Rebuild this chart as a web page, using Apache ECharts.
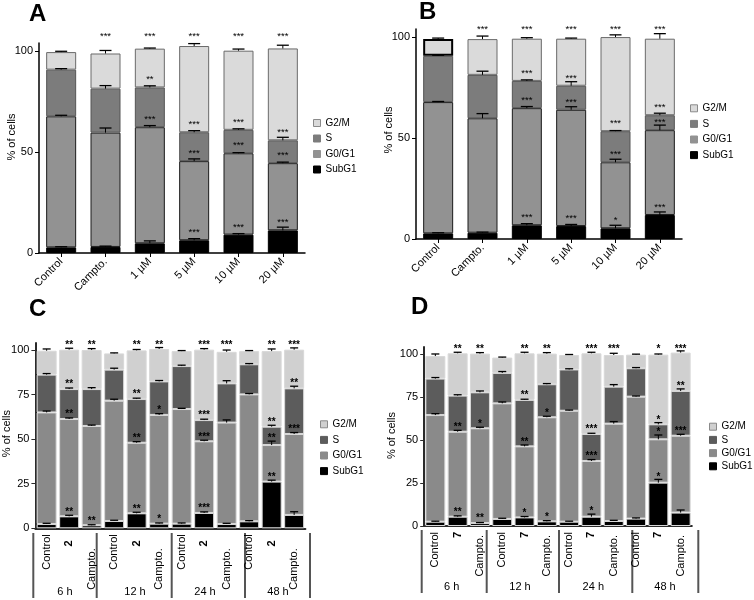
<!DOCTYPE html>
<html><head><meta charset="utf-8">
<script src="https://cdn.jsdelivr.net/npm/echarts@6/dist/echarts.min.js"></script>
<style>html,body{margin:0;padding:0;background:#fff}#c{width:754px;height:600px}</style>
</head><body><div id="c"></div>
<script>
const FONT = 'Liberation Sans, Arial, sans-serif';
const segNames = ['SubG1', 'G0/G1', 'S', 'G2/M'];
const legendOrder = ['G2/M', 'S', 'G0/G1', 'SubG1'];
const catsAB = ['Control', 'Campto.', '1 µM', '5 µM', '10 µM', '20 µM'];
const catsC = ['Control', '2', 'Campto.', 'Control', '2', 'Campto.', 'Control', '2', 'Campto.', 'Control', '2', 'Campto.'];
const catsD = ['Control', '7', 'Campto.', 'Control', '7', 'Campto.', 'Control', '7', 'Campto.', 'Control', '7', 'Campto.'];
const groupLabels = ['6 h', '12 h', '24 h', '48 h'];
const yTicksAB = [0, 50, 100];
const yTicksCD = [0, 25, 50, 75, 100];

// Panel A
const aSubG1 = [2.8, 3.0, 4.8, 6.3, 9.1, 11.2];
const aG0G1 = [64.9, 56.6, 57.5, 39.2, 40.3, 33.3];
const aS = [23.1, 21.8, 19.7, 14.3, 11.6, 11.3];
const aG2M = [8.7, 17.4, 19.2, 42.7, 39.2, 45.5];
const aErr = [[0.3, 0.4, 1.2, 0.8, 0.5, 1.6], [0.5, 2.3, 0.8, 1.1, 0.3, 0.5], [0.5, 1.5, 0.8, 0.8, 0.5, 1.5], [0.4, 1.5, 0.3, 1.2, 0.8, 1.6]];
const aStars = [['', '', '', '***', '***', '***'], ['', '', '***', '***', '***', '***'], ['', '', '**', '***', '***', '***'], ['', '***', '***', '***', '***', '***']];

// Panel B
const bSubG1 = [2.8, 3.1, 6.8, 6.4, 5.3, 11.9];
const bG0G1 = [65.0, 56.7, 58.0, 57.6, 32.7, 42.0];
const bS = [22.9, 21.5, 13.5, 11.9, 15.4, 7.4];
const bG2M = [8.3, 17.7, 20.9, 23.3, 46.6, 37.9];
const bErr = [[0.3, 0.3, 0.8, 0.8, 1.5, 1.5], [0.3, 2.3, 0.8, 1.5, 1.5, 2.5], [0.3, 1.8, 0.5, 2.0, 0.3, 1.0], [0.5, 1.5, 0.5, 0.3, 1.1, 2.5]];
const bStars = [['', '', '***', '***', '*', '***'], ['', '', '***', '***', '***', '***'], ['', '', '***', '***', '***', '***'], ['', '***', '***', '***', '***', '***']];

// Panel C
const cSubG1 = [2.4, 6.7, 1.7, 4.1, 8.4, 2.6, 2.6, 8.6, 2.4, 3.9, 26.2, 7.5];
const cG0G1 = [62.6, 54.6, 55.7, 67.5, 39.6, 61.0, 64.3, 40.2, 56.9, 71.2, 20.5, 45.4];
const cS = [21.2, 16.8, 20.7, 17.4, 24.5, 18.8, 24.1, 11.9, 22.0, 16.9, 10.3, 25.6];
const cG2M = [13.4, 22.1, 21.9, 9.1, 27.3, 18.2, 8.4, 39.5, 17.7, 7.4, 42.4, 21.7];
const cErr = [[0.4, 0.6, 0.3, 0.4, 0.6, 0.4, 0.4, 0.6, 0.4, 0.4, 0.8, 1.8], [0.8, 0.6, 0.5, 0.8, 0.6, 0.7, 0.4, 0.6, 1.5, 0.5, 2.2, 0.8], [0.6, 0.6, 0.8, 0.8, 0.5, 0.5, 0.5, 0.5, 1.5, 0.4, 0.8, 1.2], [1.0, 0.8, 0.8, 0.3, 0.5, 0.8, 0.3, 0.6, 1.0, 0.3, 1.2, 1.0]];
const cStars = [['', '**', '**', '', '**', '*', '', '***', '', '', '**', ''], ['', '**', '', '', '**', '*', '', '***', '', '', '**', '***'], ['', '**', '', '', '**', '', '', '***', '', '', '**', '**'], ['', '**', '**', '', '**', '**', '', '***', '***', '', '**', '***']];

// Panel D
const dSubG1 = [2.5, 5.4, 1.7, 4.1, 5.0, 2.7, 2.5, 5.4, 2.9, 4.3, 25.2, 7.8];
const dG0G1 = [62.0, 49.4, 55.1, 67.2, 41.3, 60.5, 64.5, 32.4, 56.6, 70.9, 25.2, 44.7];
const dS = [21.2, 21.0, 20.9, 17.7, 27.0, 19.2, 24.0, 15.7, 21.5, 16.5, 8.7, 26.0];
const dG2M = [13.1, 24.6, 22.5, 8.9, 27.1, 17.8, 8.4, 46.9, 18.4, 7.9, 40.5, 22.3];
const dErr = [[0.3, 0.5, 0.3, 0.4, 0.5, 0.4, 0.3, 1.5, 0.4, 0.4, 1.9, 1.5], [0.8, 0.8, 0.6, 0.8, 0.8, 0.6, 0.4, 0.8, 1.2, 0.4, 2.5, 0.8], [0.6, 0.5, 0.8, 0.8, 0.4, 0.4, 0.4, 0.4, 1.2, 0.4, 1.0, 1.2], [1.2, 0.6, 0.6, 0.3, 0.6, 0.6, 0.3, 0.6, 1.0, 0.3, 0.4, 1.0]];
const dStars = [['', '**', '**', '', '*', '*', '', '*', '', '', '*', ''], ['', '**', '*', '', '**', '*', '', '***', '', '', '*', '***'], ['', '', '', '', '**', '', '', '***', '', '', '*', '**'], ['', '**', '**', '', '**', '**', '', '***', '***', '', '*', '***']];

const colorsAB = ['#000000', '#929292', '#7c7c7c', '#dadada'];
const bordersAB = ['#000000', '#1a1a1a', '#555555', '#6a6a6a'];
const colorsCD = ['#000000', '#8a8a8a', '#5c5c5c', '#d0d0d0'];
const bordersCD = ['#d8d8d8', '#d8d8d8', '#d8d8d8', '#d8d8d8'];

const panels = [
  { letter: 'A', letterPos: [29, 2], cats: catsAB, segs: [aSubG1, aG0G1, aS, aG2M], err: aErr, stars: aStars, topLevel: 108.7,
    grid: { left: 39, top: 43, width: 266, height: 210 }, ticks: yTicksAB, interval: 50, barWidth: 30, cap: 12,
    colors: colorsAB, borders: bordersAB, starSize: 9.5, starWeight: 'normal', starOff: 10, nameGap: 22, namePad: [0, 0, 0, 22],
    legend: { left: 313, top: 117, gap: 3.5 }, rotate: 45 },
  { letter: 'B', letterPos: [419, 0], cats: catsAB, segs: [bSubG1, bG0G1, bS, bG2M], err: bErr, stars: bStars, topLevel: 105.2,
    grid: { left: 416, top: 29, width: 266, height: 210 }, ticks: yTicksAB, interval: 50, barWidth: 30, cap: 12,
    colors: colorsAB, borders: bordersAB, starSize: 9.5, starWeight: 'normal', starOff: 10, nameGap: 22, namePad: [0, 0, 0, 8],
    legend: { left: 690, top: 102.3, gap: 3.6 }, rotate: 45 },
  { letter: 'C', letterPos: [29, 297], cats: catsC, segs: [cSubG1, cG0G1, cS, cG2M], err: cErr, stars: cStars, topLevel: 104.3,
    grid: { left: 35.4, top: 342.9, width: 270, height: 185.4 }, ticks: yTicksCD, interval: 25, barWidth: 20, cap: 8,
    colors: colorsCD, borders: bordersCD, starSize: 10, starWeight: 'bold', starOff: 7, nameGap: 23, namePad: [0, 0, 0, 4],
    legend: { left: 320, top: 418.3, gap: 3.6 }, rotate: 90, labelPad: { n: 6, c: 14 },
    seps: [33.3, 96.7, 171.7, 245, 310], sepY: [533, 598], groupX: [65, 135, 205, 278], groupY: 591.7 },
  { letter: 'D', letterPos: [411, 295], cats: catsD, segs: [dSubG1, dG0G1, dS, dG2M], err: dErr, stars: dStars, topLevel: 104.4,
    grid: { left: 424.2, top: 347.1, width: 267.6, height: 178.9 }, ticks: yTicksCD, interval: 25, barWidth: 20, cap: 8,
    colors: colorsCD, borders: bordersCD, starSize: 10, starWeight: 'bold', starOff: 7, nameGap: 27, namePad: [0, 0, 0, 2],
    legend: { left: 709, top: 420.7, gap: 1.2 }, rotate: 90, labelPad: { n: 0, c: 3 },
    seps: [421.7, 486.7, 559, 632.3, 698.3], sepY: [530, 593], groupX: [451.7, 520, 593.3, 665], groupY: 586.7 }
];

function starText(txt, x, y, P) {
  return { type: 'text', style: { text: txt, x: x, y: y + P.starSize * 0.25, fill: '#000', fontSize: P.starSize,
    fontWeight: P.starWeight, fontFamily: FONT, align: 'center', verticalAlign: 'middle' } };
}

const grids = [], xAxes = [], yAxes = [], series = [], legends = [], graphics = [];
panels.forEach((P, pi) => {
  grids.push(Object.assign({ outerBoundsMode: 'none', containLabel: false }, P.grid));
  const xLabel = { interval: 0, rotate: P.rotate, fontSize: 11, color: '#000', fontFamily: FONT, margin: P.rotate === 90 ? 6 : 7 };
  if (P.labelPad) {
    xLabel.formatter = v => v === 'Control' ? v : (v === 'Campto.' ? '{c|Campto.}' : '{n|' + v + '}');
    xLabel.rich = {
      c: { fontSize: 11, color: '#000', fontFamily: FONT, padding: [0, P.labelPad.c, 0, 0] },
      n: { fontSize: 11, color: '#000', fontFamily: FONT, fontWeight: 'bold', padding: [0, P.labelPad.n, 0, 0] }
    };
  }
  const axisCol = P.rotate === 90 ? '#2a2a2a' : '#000';
  xAxes.push({ type: 'category', gridIndex: pi, data: P.cats, axisLine: { lineStyle: { color: axisCol, width: P.rotate === 90 ? 2 : 1.5 } },
    axisTick: { show: P.rotate !== 90, alignWithLabel: true, length: 4, lineStyle: { color: '#000' } }, axisLabel: xLabel });
  yAxes.push({ type: 'value', gridIndex: pi, min: 0, max: 104, interval: P.interval,
    name: '% of cells', nameLocation: 'middle', nameGap: P.nameGap, nameMoveOverlap: false,
    nameTextStyle: { fontSize: 11, color: '#000', fontFamily: FONT, padding: P.namePad },
    axisLine: { show: true, lineStyle: { color: axisCol, width: P.rotate === 90 ? 2 : 1.5 } },
    axisTick: { show: true, length: 4, customValues: P.ticks, lineStyle: { color: axisCol } },
    axisLabel: { customValues: P.ticks, fontSize: 11, color: '#000', fontFamily: FONT, margin: 6 },
    splitLine: { show: false } });
  segNames.forEach((name, s) => {
    const data = P.segs[s].map(v => v);
    if (P.letter === 'B' && s === 3) {
      data[0] = { value: P.segs[s][0], itemStyle: { borderColor: '#000', borderWidth: 2 } };
    }
    series.push({ type: 'bar', name: name, xAxisIndex: pi, yAxisIndex: pi, stack: 'p' + pi, barWidth: P.barWidth,
      data: data, itemStyle: { color: P.colors[s], borderColor: P.borders[s], borderWidth: 1 },
      emphasis: { disabled: true }, animation: false });
  });
  series.push({ type: 'custom', xAxisIndex: pi, yAxisIndex: pi, z: 5, clip: false, silent: true, animation: false,
    data: P.cats.map((c, i) => [i, 0]),
    renderItem(params, api) {
      const i = params.dataIndex;
      const kids = [];
      let cum = 0;
      for (let s = 0; s < 4; s++) {
        cum += P.segs[s][i];
        const e = P.err[s][i];
        const a = api.coord([i, cum]), b = api.coord([i, cum + e]);
        kids.push({ type: 'line', shape: { x1: a[0], y1: a[1], x2: b[0], y2: b[1] }, style: { stroke: '#000', lineWidth: 1 } });
        kids.push({ type: 'line', shape: { x1: b[0] - P.cap / 2, y1: b[1], x2: b[0] + P.cap / 2, y2: b[1] }, style: { stroke: '#000', lineWidth: 1.3 } });
        if (s < 3 && P.stars[s][i]) {
          kids.push(starText(P.stars[s][i], a[0], Math.min(a[1] - P.starOff, b[1] - 5), P));
        }
      }
      if (P.stars[3][i]) {
        const t = api.coord([i, P.topLevel]);
        kids.push(starText(P.stars[3][i], t[0], t[1], P));
      }
      return { type: 'group', children: kids };
    } });
  legends.push({ orient: 'vertical', left: P.legend.left, top: P.legend.top, padding: 0, itemGap: P.legend.gap,
    itemWidth: 7, itemHeight: 7, icon: 'rect', selectedMode: false,
    textStyle: { fontSize: 10, color: '#000', fontFamily: FONT, lineHeight: 12 },
    data: legendOrder.map(n => {
      const s = segNames.indexOf(n);
      return { name: n, itemStyle: { color: P.colors[s], borderColor: s === 3 ? '#8a8a8a' : P.colors[s], borderWidth: 1 } };
    }) });
  graphics.push({ type: 'text', left: P.letterPos[0], top: P.letterPos[1],
    style: { text: P.letter, fontSize: 24, fontWeight: 'bold', fill: '#000', fontFamily: FONT } });
  if (P.seps) {
    P.seps.forEach(x => graphics.push({ type: 'line', shape: { x1: x, y1: P.sepY[0], x2: x, y2: P.sepY[1] },
      style: { stroke: '#555', lineWidth: 2 } }));
    groupLabels.forEach((g, k) => graphics.push({ type: 'text', x: P.groupX[k], y: P.groupY,
      style: { text: g, fontSize: 11, fill: '#000', fontFamily: FONT, align: 'center', verticalAlign: 'middle' } }));
  }
});

const chart = echarts.init(document.getElementById('c'), null, { renderer: 'canvas' });
chart.setOption({
  backgroundColor: '#fff', animation: false,
  textStyle: { fontFamily: FONT },
  grid: grids, xAxis: xAxes, yAxis: yAxes, series: series, legend: legends, graphic: graphics
});
</script></body></html>
